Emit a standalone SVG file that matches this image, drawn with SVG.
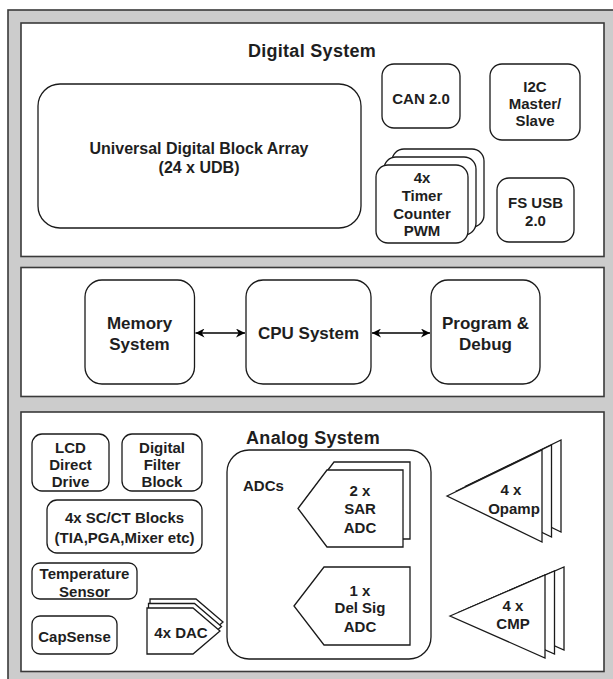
<svg xmlns="http://www.w3.org/2000/svg" width="613" height="679" viewBox="0 0 613 679">
<style>
.panel{fill:#fff;stroke:#3a3a3a;stroke-width:1.6}
.n{fill:#fff;stroke:#1a1a1a;stroke-width:1.3}
text{font-family:"Liberation Sans",Arial,sans-serif;font-weight:bold;fill:#1e1e1e;text-anchor:middle;dominant-baseline:central}
.t15{font-size:15px}
.t16{font-size:16px}
.t17{font-size:17px}
.title{font-size:18px;letter-spacing:0.3px}
.con{stroke:#000;stroke-width:1.5;fill:none}
</style>
<defs>
<marker id="ah" viewBox="0 0 10 10" refX="10" refY="5" markerWidth="10" markerHeight="9" markerUnits="userSpaceOnUse" orient="auto-start-reverse">
<path d="M0,0 L10,5 L0,10 L3,5 z" fill="#000"/>
</marker>
</defs>
<rect x="8" y="10" width="620" height="690" fill="#cccccc" stroke="#3a3a3a" stroke-width="1.6"/>

<g id="digital-system">
<rect class="panel" x="21" y="23" width="583" height="233.5"/>
<text class="title" x="312" y="51">Digital System</text>
</g>
<g id="udb">
<rect class="n" x="38" y="84" width="323" height="144" rx="22"/>
<text class="t16" x="199" y="148">Universal Digital Block Array</text>
<text class="t16" x="199" y="167">(24 x UDB)</text>
</g>
<g id="can">
<rect class="n" x="382" y="64" width="78" height="64" rx="12"/>
<text class="t15" x="421" y="98">CAN 2.0</text>
</g>
<g id="i2c">
<rect class="n" x="490" y="64" width="90" height="76" rx="12"/>
<text class="t15" x="535" y="86">I2C</text>
<text class="t15" x="535" y="103">Master/</text>
<text class="t15" x="535" y="120">Slave</text>
</g>
<g id="timer">
<rect class="n" x="392" y="149" width="92" height="78" rx="12"/>
<rect class="n" x="384" y="157" width="92" height="78" rx="12"/>
<rect class="n" x="376" y="165" width="92" height="78" rx="12"/>
<text class="t15" x="422" y="177">4x</text>
<text class="t15" x="422" y="195">Timer</text>
<text class="t15" x="422" y="213">Counter</text>
<text class="t15" x="422" y="230">PWM</text>
</g>
<g id="fsusb">
<rect class="n" x="497" y="178" width="77" height="64" rx="12"/>
<text class="t15" x="535.5" y="202">FS USB</text>
<text class="t15" x="535.5" y="220">2.0</text>
</g>

<g id="cpu-panel">
<rect class="panel" x="21" y="267.5" width="583" height="129"/>
</g>
<g id="memory">
<rect class="n" x="85" y="280" width="109.5" height="104" rx="17"/>
<text class="t17" x="139.5" y="323">Memory</text>
<text class="t17" x="139.5" y="344">System</text>
</g>
<g id="cpu">
<rect class="n" x="246" y="280" width="125" height="104" rx="17"/>
<text class="t17" x="308.5" y="333">CPU System</text>
</g>
<g id="program">
<rect class="n" x="431" y="280" width="109" height="104" rx="17"/>
<text class="t17" x="485.5" y="323">Program &amp;</text>
<text class="t17" x="485.5" y="344">Debug</text>
</g>

<g id="analog-system">
<rect class="panel" x="21" y="412" width="583" height="259.5"/>
<text class="title" x="313" y="438">Analog System</text>
</g>
<g id="lcd">
<rect class="n" x="32" y="434" width="77" height="57" rx="10"/>
<text class="t15" x="70.5" y="447">LCD</text>
<text class="t15" x="70.5" y="464">Direct</text>
<text class="t15" x="70.5" y="481">Drive</text>
</g>
<g id="dfb">
<rect class="n" x="122" y="434" width="80" height="57" rx="10"/>
<text class="t15" x="162" y="447">Digital</text>
<text class="t15" x="162" y="464">Filter</text>
<text class="t15" x="162" y="481">Block</text>
</g>
<g id="scct">
<rect class="n" x="47" y="500" width="155" height="53" rx="10"/>
<text class="t15" x="124.5" y="517">4x SC/CT Blocks</text>
<text class="t15" x="124.5" y="537">(TIA,PGA,Mixer etc)</text>
</g>
<g id="temp">
<rect class="n" x="32" y="563" width="105" height="36" rx="8"/>
<text class="t15" x="84.5" y="573">Temperature</text>
<text class="t15" x="84.5" y="591">Sensor</text>
</g>
<g id="capsense">
<rect class="n" x="32" y="616" width="85" height="38" rx="8"/>
<text class="t15" x="74.5" y="636">CapSense</text>
</g>
<g id="dac">
<polygon class="n" points="150,599 196,599 223,622 196,645 150,645"/>
<polygon class="n" points="148.5,603.5 194.5,603.5 221.5,626.5 194.5,649.5 148.5,649.5"/>
<polygon class="n" points="147,608 193,608 220,631 193,654 147,654"/>
<text class="t15" x="181" y="632">4x DAC</text>
</g>
<g id="adcs">
<rect class="n" x="227" y="450" width="204" height="209" rx="22"/>
<text class="t15" x="243" y="485" style="text-anchor:start">ADCs</text>
</g>
<g id="sar">
<polygon class="n" points="305,500 334,462 410,462 410,539 334,539"/>
<polygon class="n" points="298,508.5 327,470 403,470 403,547 327,547"/>
<text class="t15" x="360" y="490">2 x</text>
<text class="t15" x="360" y="508">SAR</text>
<text class="t15" x="360" y="527">ADC</text>
</g>
<g id="delsig">
<polygon class="n" points="294,606 324,567 410,567 410,645 324,645"/>
<text class="t15" x="360" y="590">1 x</text>
<text class="t15" x="360" y="607">Del Sig</text>
<text class="t15" x="360" y="626">ADC</text>
</g>
<g id="opamp">
<polygon class="n" points="466,486 561,440 561,532"/>
<polygon class="n" points="456.5,491 551.5,445 551.5,537"/>
<polygon class="n" points="447,496 542,450 542,542"/>
<text class="t15" x="511" y="489">4 x</text>
<text class="t15" x="514" y="508">Opamp</text>
</g>
<g id="cmp">
<polygon class="n" points="469,608 564,567 564,650"/>
<polygon class="n" points="459.5,612 554.5,571 554.5,654"/>
<polygon class="n" points="450,616 545,575 545,658"/>
<text class="t15" x="513" y="605">4 x</text>
<text class="t15" x="513" y="623">CMP</text>
</g>

<g id="connectors">
<line class="con" x1="195.5" y1="333" x2="245" y2="333" marker-start="url(#ah)" marker-end="url(#ah)"/>
<line class="con" x1="372" y1="333" x2="430" y2="333" marker-start="url(#ah)" marker-end="url(#ah)"/>
</g>
</svg>
